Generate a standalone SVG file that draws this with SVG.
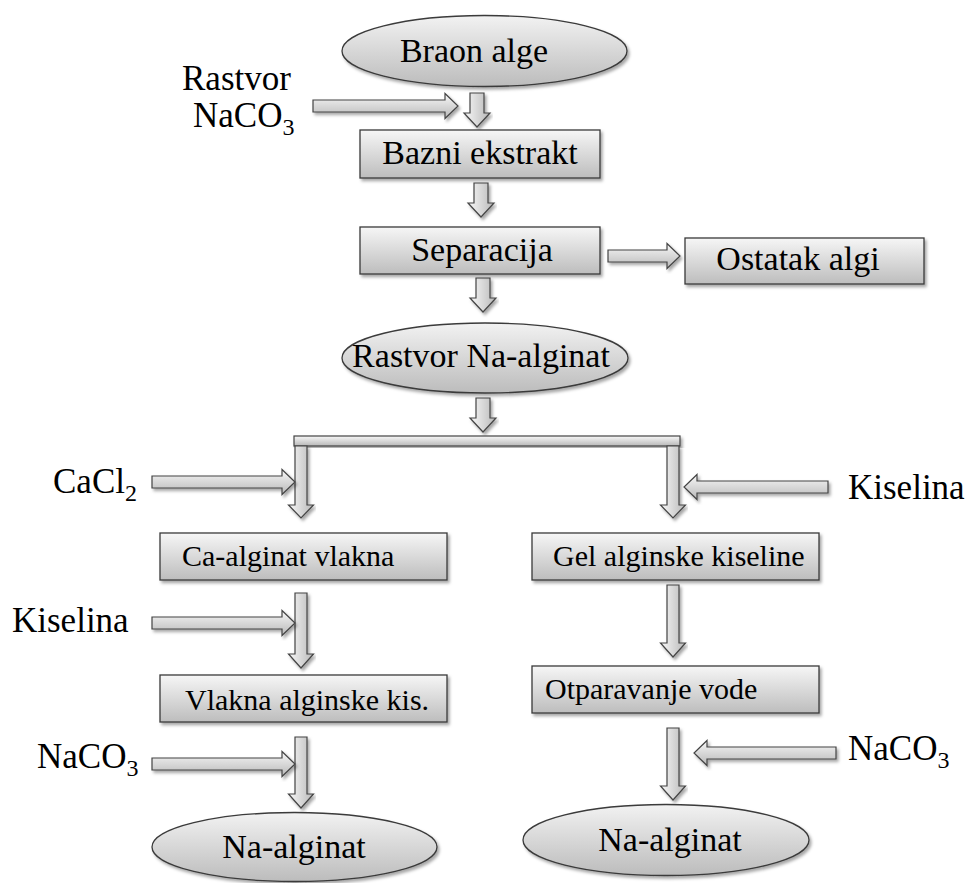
<svg xmlns="http://www.w3.org/2000/svg" width="968" height="883" viewBox="0 0 968 883">
<defs>
<linearGradient id="gBox" x1="0" y1="0" x2="0" y2="1">
<stop offset="0" stop-color="#f6f6f6"/><stop offset="1" stop-color="#bdbdbd"/>
</linearGradient>
<linearGradient id="gEll" x1="0" y1="0" x2="0" y2="1">
<stop offset="0" stop-color="#f2f2f2"/><stop offset="1" stop-color="#bcbcbc"/>
</linearGradient>
<linearGradient id="gH" x1="0" y1="0" x2="0" y2="1">
<stop offset="0" stop-color="#f8f8f8"/><stop offset="1" stop-color="#b8b8b8"/>
</linearGradient>
<linearGradient id="gV" x1="0" y1="0" x2="1" y2="0">
<stop offset="0" stop-color="#f8f8f8"/><stop offset="1" stop-color="#b8b8b8"/>
</linearGradient>
<filter id="sh" x="-10%" y="-10%" width="120%" height="130%">
<feDropShadow dx="2" dy="2.5" stdDeviation="1.8" flood-color="#000" flood-opacity="0.35"/>
</filter>
</defs>
<style>
.box{fill:url(#gBox);stroke:#3a3a3a;stroke-width:1.3;filter:url(#sh)}
.ell{fill:url(#gEll);stroke:#3a3a3a;stroke-width:1.3;filter:url(#sh)}
.ah{fill:url(#gH);stroke:#444;stroke-width:1.2;filter:url(#sh)}
.av{fill:url(#gV);stroke:#444;stroke-width:1.2;filter:url(#sh)}
text{font-family:"Liberation Serif","Times New Roman",serif;fill:#000}
.t34{font-size:34px}
.t35{font-size:35px}
.t30{font-size:30px}
.sub{font-size:24px}
</style>
<rect width="968" height="883" fill="#fff"/>

<g id="connectors">
<polygon class="ah" points="313,100 445,100 445,93.5 458,106 445,118.5 445,112 313,112"/>
<polygon class="av" points="470,93 484,93 484,113 490,113 477,127 464,113 470,113"/>
<polygon class="av" points="474,183 488,183 488,203 494,203 481,217 468,203 474,203"/>
<polygon class="ah" points="608,250 667,250 667,243.5 680,256 667,268.5 667,262 608,262"/>
<polygon class="av" points="476,278 490,278 490,298 496,298 483,312 470,298 476,298"/>
<polygon class="av" points="476,398 490,398 490,418 496,418 483,432 470,418 476,418"/>
<rect class="ah" x="294" y="436" width="386" height="10"/>
<polygon class="av" points="295,446 307,446 307,505 313.5,505 301,518 288.5,505 295,505"/>
<polygon class="av" points="667,446 679,446 679,505 685.5,505 673,518 660.5,505 667,505"/>
<polygon class="ah" points="152,476 282,476 282,469.5 295,482 282,494.5 282,488 152,488"/>
<polygon class="ah" points="828,481 697,481 697,474.5 684,487 697,499.5 697,493 828,493"/>
<polygon class="av" points="295,593 307,593 307,654 313.5,654 301,668 288.5,654 295,654"/>
<polygon class="ah" points="152,617 282,617 282,610.5 295,623 282,635.5 282,629 152,629"/>
<polygon class="av" points="667,585 679,585 679,643 685.5,643 673,657 660.5,643 667,643"/>
<polygon class="av" points="295,737 307,737 307,794 313.5,794 301,808 288.5,794 295,794"/>
<polygon class="ah" points="152,758 282,758 282,751.5 295,764 282,776.5 282,770 152,770"/>
<polygon class="av" points="667,728 679,728 679,786 685.5,786 673,800 660.5,786 667,786"/>
<polygon class="ah" points="836,747 707,747 707,740.5 694,753 707,765.5 707,759 836,759"/>
</g>

<g id="braon-alge">
<ellipse class="ell" cx="484.5" cy="51" rx="142.5" ry="35.5"/>
<text class="t34" x="474" y="62" text-anchor="middle">Braon alge</text>
</g>
<g id="rastvor-naco3">
<text class="t35" x="182" y="90">Rastvor</text>
<text class="t35" x="193" y="127">NaCO<tspan class="sub" dy="8">3</tspan></text>
</g>
<g id="bazni-ekstrakt">
<rect class="box" x="360" y="130" width="240" height="48"/>
<text class="t34" x="480" y="164" text-anchor="middle">Bazni ekstrakt</text>
</g>
<g id="separacija">
<rect class="box" x="360" y="227" width="240" height="47"/>
<text class="t34" x="482" y="261" text-anchor="middle">Separacija</text>
</g>
<g id="ostatak-algi">
<rect class="box" x="685" y="238" width="239" height="46"/>
<text class="t34" x="798" y="270" text-anchor="middle">Ostatak algi</text>
</g>
<g id="rastvor-na-alginat">
<ellipse class="ell" cx="485" cy="358" rx="143" ry="35"/>
<text class="t34" x="481" y="367" text-anchor="middle">Rastvor Na-alginat</text>
</g>
<g id="cacl2">
<text class="t35" x="53" y="493">CaCl<tspan class="sub" dy="8">2</tspan></text>
</g>
<g id="kiselina-right">
<text class="t35" x="848" y="499">Kiselina</text>
</g>
<g id="ca-alginat-vlakna">
<rect class="box" x="160" y="533" width="287" height="47"/>
<text class="t30" x="182" y="566">Ca-alginat vlakna</text>
</g>
<g id="gel-alginske-kiseline">
<rect class="box" x="532" y="533" width="287" height="47"/>
<text class="t30" x="553" y="566">Gel alginske kiseline</text>
</g>
<g id="kiselina-left">
<text class="t35" x="12" y="632">Kiselina</text>
</g>
<g id="vlakna-alginske-kis">
<rect class="box" x="160" y="675" width="287" height="47"/>
<text class="t30" x="185" y="710">Vlakna alginske kis.</text>
</g>
<g id="otparavanje-vode">
<rect class="box" x="532" y="666" width="287" height="47"/>
<text class="t30" x="545" y="699">Otparavanje vode</text>
</g>
<g id="naco3-left">
<text class="t35" x="37" y="768">NaCO<tspan class="sub" dy="8">3</tspan></text>
</g>
<g id="naco3-right">
<text class="t35" x="848" y="760">NaCO<tspan class="sub" dy="8">3</tspan></text>
</g>
<g id="na-alginat-left">
<ellipse class="ell" cx="294.5" cy="847" rx="142.5" ry="34.5"/>
<text class="t34" x="294" y="858" text-anchor="middle">Na-alginat</text>
</g>
<g id="na-alginat-right">
<ellipse class="ell" cx="666" cy="840" rx="143" ry="35.5"/>
<text class="t34" x="670" y="851" text-anchor="middle">Na-alginat</text>
</g>
</svg>
